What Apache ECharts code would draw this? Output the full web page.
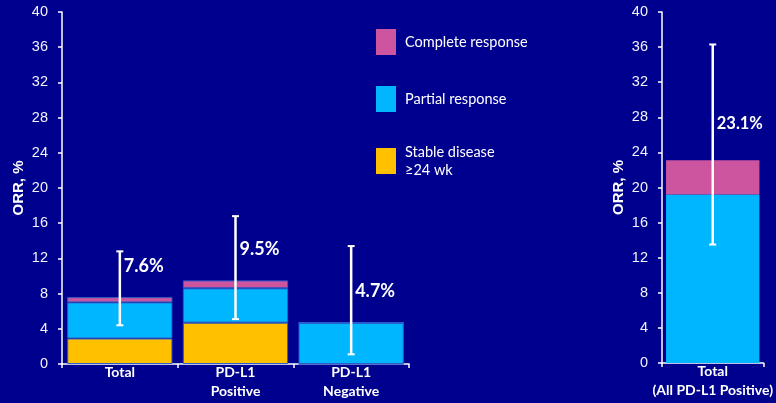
<!DOCTYPE html>
<html>
<head>
<meta charset="utf-8">
<script src="https://cdn.jsdelivr.net/npm/echarts@6/dist/echarts.min.js"></script>
<style>
  html, body { margin: 0; padding: 0; background: #00008E; }
  #chart { width: 776px; height: 403px; }
</style>
</head>
<body>
<div id="chart"></div>
<script>
// Objective response by PD-L1 status (left) and in the all-positive cohort (right)
const groupCats = ['Total', 'PD-L1\nPositive', 'PD-L1\nNegative'];
const stableDisease = [2.9, 4.7, 0];
const partialLeft = [4.1, 3.9, 4.7];
const completeLeft = [0.6, 0.9, 0];
const orrLeft = [7.6, 9.5, 4.7];
const ciLowLeft = [4.4, 5.1, 1.1];
const ciHighLeft = [12.8, 16.8, 13.4];

const cohortCats = ['Total\n(All PD-L1 Positive)'];
const partialRight = [19.2];
const completeRight = [3.9];
const orrRight = [23.1];
const ciLowRight = [13.5];
const ciHighRight = [36.3];

const yTicks = { min: 0, max: 40, interval: 4 };

const NAME_CR = 'Complete response';
const NAME_PR = 'Partial response';
const NAME_SD = 'Stable disease\n≥24 wk';

const C_CR = '#CD549E';
const C_PR = '#00B7FF';
const C_SD = '#FFC000';
const WHITE = '#FFFFFF';

const labelFont = 'Lato, "Open Sans", sans-serif';
const tickFont = '"Liberation Sans", Arial, sans-serif';

function errRows(orr, lo, hi) {
  return orr.map((v, i) => [i, v, lo[i], hi[i]]);
}

// Whisker with caps, plus the ORR value written beside it
function makeErrRenderer(fontSize, rise) {
  return function (params, api) {
    const i = api.value(0);
    const mid = api.coord([i, api.value(1)]);
    const lo = api.coord([i, api.value(2)]);
    const hi = api.coord([i, api.value(3)]);
    const cap = 3.5;
    const line = { stroke: WHITE, lineWidth: 2.5 };
    return {
      type: 'group',
      children: [
        { type: 'line', shape: { x1: lo[0], y1: lo[1], x2: hi[0], y2: hi[1] }, style: line },
        { type: 'line', shape: { x1: hi[0] - cap, y1: hi[1], x2: hi[0] + cap, y2: hi[1] }, style: { stroke: WHITE, lineWidth: 2 } },
        { type: 'line', shape: { x1: lo[0] - cap, y1: lo[1], x2: lo[0] + cap, y2: lo[1] }, style: { stroke: WHITE, lineWidth: 2 } },
        {
          type: 'text',
          x: mid[0] + 4,
          y: mid[1] - rise,
          style: {
            text: api.value(1).toFixed(1) + '%',
            fill: WHITE,
            font: 'bold ' + fontSize + 'px ' + labelFont,
            align: 'left',
            verticalAlign: 'middle'
          }
        }
      ]
    };
  };
}

function xAxisFor(gridIndex, cats) {
  return {
    type: 'category',
    gridIndex: gridIndex,
    data: cats,
    boundaryGap: true,
    axisLine: { lineStyle: { color: WHITE, width: 1.5 } },
    axisTick: { show: true, length: 4, lineStyle: { color: WHITE, width: 1.5 } },
    axisLabel: {
      color: WHITE,
      fontFamily: labelFont,
      fontWeight: 'bold',
      fontSize: 14,
      lineHeight: 19,
      margin: -1,
      interval: 0
    }
  };
}

function yAxisFor(gridIndex) {
  return {
    type: 'value',
    gridIndex: gridIndex,
    min: yTicks.min,
    max: yTicks.max,
    interval: yTicks.interval,
    name: 'ORR, %',
    nameLocation: 'middle',
    nameRotate: 90,
    nameGap: 36,
    nameTextStyle: { color: WHITE, fontFamily: tickFont, fontWeight: 'bold', fontSize: 15 },
    axisLine: { show: true, lineStyle: { color: WHITE, width: 1.5 } },
    axisTick: { show: true, length: 4, lineStyle: { color: WHITE, width: 1.5 } },
    axisLabel: { color: '#F2F2FA', fontFamily: tickFont, fontSize: 14.5, margin: 14 },
    splitLine: { show: false }
  };
}

const barBorder = { borderColor: '#2E5BC8', borderWidth: 1 };

const chart = echarts.init(document.getElementById('chart'), null, { renderer: 'canvas' });
chart.setOption({
  backgroundColor: '#00008E',
  animation: false,
  legend: {
    orient: 'vertical',
    left: 376,
    top: 29,
    padding: 0,
    itemWidth: 20,
    itemHeight: 26,
    itemGap: 31,
    selectedMode: false,
    data: [NAME_CR, NAME_PR, NAME_SD],
    icon: 'rect',
    itemStyle: { borderWidth: 0 },
    textStyle: {
      color: WHITE,
      fontFamily: labelFont,
      fontSize: 14.5,
      lineHeight: 18,
      padding: [0, 0, 0, 4]
    }
  },
  grid: [
    { left: 62, right: 367, top: 12, bottom: 39 },
    { left: 662, right: 3, top: 12, bottom: 40 }
  ],
  xAxis: [xAxisFor(0, groupCats), xAxisFor(1, cohortCats)],
  yAxis: [yAxisFor(0), yAxisFor(1)],
  series: [
    { name: NAME_SD, type: 'bar', stack: 'left', xAxisIndex: 0, yAxisIndex: 0, barWidth: '91%',
      itemStyle: Object.assign({ color: C_SD }, barBorder), data: stableDisease },
    { name: NAME_PR, type: 'bar', stack: 'left', xAxisIndex: 0, yAxisIndex: 0, barWidth: '91%',
      itemStyle: Object.assign({ color: C_PR }, barBorder), data: partialLeft },
    { name: NAME_CR, type: 'bar', stack: 'left', xAxisIndex: 0, yAxisIndex: 0, barWidth: '91%',
      itemStyle: Object.assign({ color: C_CR }, barBorder), data: completeLeft },
    { name: NAME_PR, type: 'bar', stack: 'right', xAxisIndex: 1, yAxisIndex: 1, barWidth: '92%',
      itemStyle: { color: C_PR }, data: partialRight },
    { name: NAME_CR, type: 'bar', stack: 'right', xAxisIndex: 1, yAxisIndex: 1, barWidth: '92%',
      itemStyle: { color: C_CR }, data: completeRight },
    { type: 'custom', xAxisIndex: 0, yAxisIndex: 0, z: 10,
      renderItem: makeErrRenderer(18, 31), data: errRows(orrLeft, ciLowLeft, ciHighLeft) },
    { type: 'custom', xAxisIndex: 1, yAxisIndex: 1, z: 10,
      renderItem: makeErrRenderer(16.5, 37), data: errRows(orrRight, ciLowRight, ciHighRight) }
  ]
});
</script>
</body>
</html>
